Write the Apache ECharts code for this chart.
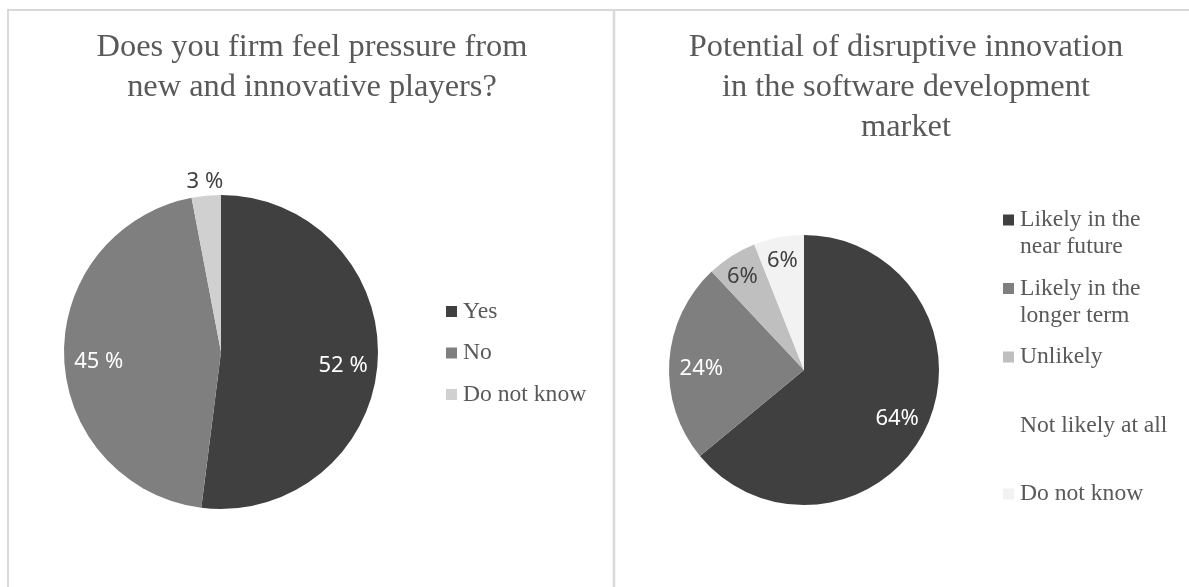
<!DOCTYPE html>
<html>
<head>
<meta charset="utf-8">
<script src="https://cdn.jsdelivr.net/npm/echarts@6/dist/echarts.min.js"></script>
<style>
  html, body { margin: 0; padding: 0; background: #ffffff; }
  #chart { width: 1189px; height: 587px; }
</style>
</head>
<body>
<div id="chart"></div>
<script>
// Survey: does the firm feel pressure from new players?
const pressureTitle = 'Does you firm feel pressure from\nnew and innovative players?';
const pressureCategories = ['Yes', 'No', 'Do not know'];
const pressureValues = [52, 45, 3];
const pressureColors = ['#404040', '#7f7f7f', '#d0d0d0'];
const pressureLabelColors = ['#ffffff', '#ffffff', '#404040'];

// Survey: potential of disruptive innovation
const disruptionTitle = 'Potential of disruptive innovation\nin the software development\nmarket';
const disruptionCategories = ['Likely in the near future', 'Likely in the longer term', 'Unlikely', 'Not likely at all', 'Do not know'];
const disruptionValues = [64, 24, 6, 0, 6];
const disruptionColors = ['#404040', '#7f7f7f', '#bfbfbf', '#ffffff', '#f2f2f2'];
const disruptionLabelColors = ['#ffffff', '#ffffff', '#404040', '#404040', '#404040'];

const SERIF = "'Liberation Serif', 'DejaVu Serif', serif";
const SANS = "'Noto Sans', 'Open Sans', sans-serif";
const TEXT_GREY = '#595959';
const LEGEND_SIZE = 23.6;
const LINE_H = 27;

// Greedy word wrap using the legend font metrics
const measureCtx = document.createElement('canvas').getContext('2d');
measureCtx.font = LEGEND_SIZE + 'px ' + SERIF;
function wrapWords(text, maxWidth) {
  const words = text.split(' ');
  const lines = [];
  let cur = '';
  words.forEach(w => {
    const trial = cur ? cur + ' ' + w : w;
    if (cur && measureCtx.measureText(trial).width > maxWidth) {
      lines.push(cur);
      cur = w;
    } else {
      cur = trial;
    }
  });
  if (cur) lines.push(cur);
  return lines;
}

// Legend whose square marker sits on the first text line
function makeLegend(names, colors, left, top, slotLines) {
  const rich = {
    g: { width: 6, lineHeight: LINE_H },
    ind: { width: 17, height: LINE_H, lineHeight: LINE_H },
    t: { fontFamily: SERIF, fontSize: LEGEND_SIZE, color: TEXT_GREY, lineHeight: LINE_H, verticalAlign: 'middle' }
  };
  colors.forEach((c, i) => {
    rich['s' + i] = { width: 11, height: 11, backgroundColor: c, verticalAlign: 'middle' };
  });
  return {
    orient: 'vertical',
    left: left - 10,
    top: top,
    itemGap: 14.5,
    itemWidth: 0,
    itemHeight: 0,
    icon: 'rect',
    selectedMode: false,
    data: names.slice(),
    textStyle: { fontFamily: SERIF, fontSize: LEGEND_SIZE, color: TEXT_GREY, lineHeight: LINE_H, rich: rich },
    formatter: function (name) {
      const i = names.indexOf(name);
      const lines = wrapWords(name, 153);
      while (lines.length < slotLines) lines.push('');
      return lines.map((l, k) => {
        if (k === 0) return '{s' + i + '|}{g|}{t|' + l + '}';
        return l ? '{ind|}{t|' + l + '}' : '{ind|}';
      }).join('\n');
    }
  };
}

function mainPie(center, radius, names, values, colors) {
  return {
    type: 'pie',
    center: center,
    radius: radius,
    startAngle: 90,
    clockwise: true,
    animation: false,
    silent: true,
    label: { show: false },
    labelLine: { show: false },
    itemStyle: { borderWidth: 0 },
    data: names.map((n, i) => ({ name: n, value: values[i], itemStyle: { color: colors[i] } }))
  };
}

// Transparent ring carrying the value labels at a chosen radius
function labelRing(center, r0, r1, names, values, labelColors, shown, suffix, dy) {
  return {
    type: 'pie',
    center: center,
    radius: [r0, r1],
    startAngle: 90,
    clockwise: true,
    animation: false,
    silent: true,
    labelLine: { show: false },
    labelLayout: { dy: dy },
    itemStyle: { color: 'transparent' },
    data: names.map((n, i) => ({
      name: n,
      value: values[i],
      label: {
        show: shown.indexOf(i) >= 0,
        position: 'inside',
        color: labelColors[i],
        fontFamily: SANS,
        fontSize: 22,
        formatter: '{c}' + suffix
      }
    }))
  };
}

const leftCenter = [221, 352];
const leftR = 157;
const rightCenter = [804, 370];
const rightR = 135;

const titleStyle = { fontFamily: SERIF, fontSize: 32.4, fontWeight: 'normal', color: TEXT_GREY, lineHeight: 40 };

const chart = echarts.init(document.getElementById('chart'), null, { renderer: 'canvas' });
chart.setOption({
  backgroundColor: '#ffffff',
  animation: false,
  title: [
    { text: pressureTitle, left: 312, top: 27, textAlign: 'center', textStyle: titleStyle, padding: 0 },
    { text: disruptionTitle, left: 906, top: 27, textAlign: 'center', textStyle: titleStyle, padding: 0 }
  ],
  legend: [
    makeLegend(pressureCategories, pressureColors, 446, 293, 1),
    makeLegend(disruptionCategories, disruptionColors, 1003, 201.5, 2)
  ],
  graphic: [
    { type: 'line', silent: true, shape: { x1: 7, y1: 10, x2: 1189, y2: 10 }, style: { stroke: '#d9d9d9', lineWidth: 2 } },
    { type: 'line', silent: true, shape: { x1: 8, y1: 9, x2: 8, y2: 587 }, style: { stroke: '#d9d9d9', lineWidth: 2 } },
    { type: 'line', silent: true, shape: { x1: 614, y1: 9, x2: 614, y2: 587 }, style: { stroke: '#d9d9d9', lineWidth: 2.5 } }
  ],
  series: [
    mainPie(leftCenter, leftR, pressureCategories, pressureValues, pressureColors),
    mainPie(rightCenter, rightR, disruptionCategories, disruptionValues, disruptionColors),
    labelRing(leftCenter, leftR * 0.52, leftR, pressureCategories, pressureValues, pressureLabelColors, [0, 1], ' %', 6),
    labelRing(leftCenter, leftR, leftR + 22, pressureCategories, pressureValues, pressureLabelColors, [2], ' %', 0),
    labelRing(rightCenter, rightR * 0.48, rightR, disruptionCategories, disruptionValues, disruptionLabelColors, [0, 1], '%', 5),
    labelRing(rightCenter, rightR * 0.66, rightR, disruptionCategories, disruptionValues, disruptionLabelColors, [2, 4], '%', 4)
  ]
});
</script>
</body>
</html>
